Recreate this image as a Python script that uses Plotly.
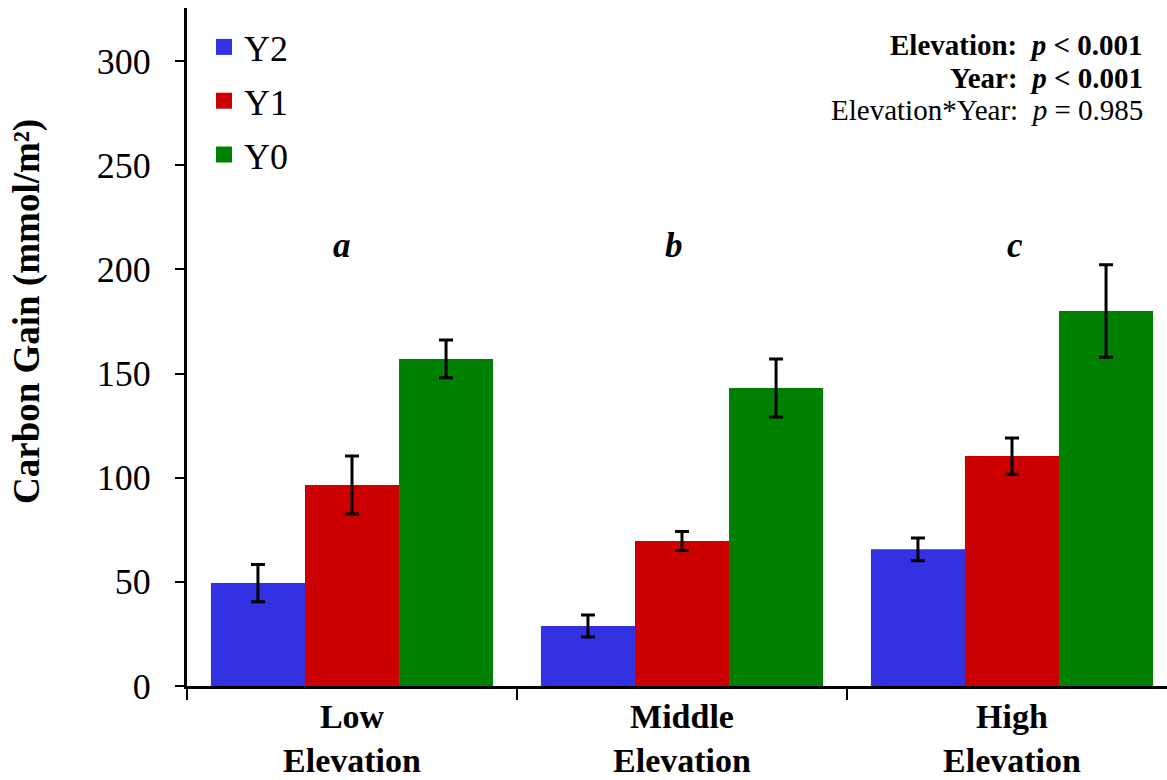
import plotly.graph_objects as go

categories = ["Low<br>Elevation", "Middle<br>Elevation", "High<br>Elevation"]
series_names = ["Y2", "Y1", "Y0"]
y2_values = [49.4, 28.8, 65.6]
y1_values = [96.5, 69.6, 110.4]
y0_values = [157.0, 143.0, 180.0]
y2_errors = [8.9, 5.3, 5.5]
y1_errors = [13.9, 4.6, 8.7]
y0_errors = [9.1, 13.9, 22.2]
group_letters = ["a", "b", "c"]
colors = ["#3232E3", "#CC0000", "#007F00"]

FONT = "Liberation Serif, Times New Roman, serif"

fig = go.Figure()
for name, vals, errs, col in zip(series_names,
                                 [y2_values, y1_values, y0_values],
                                 [y2_errors, y1_errors, y0_errors],
                                 colors):
    fig.add_trace(go.Bar(
        x=categories, y=vals, name=name, showlegend=False,
        marker=dict(color=col, line=dict(width=0)),
        error_y=dict(type="data", array=errs, visible=True,
                     color="black", thickness=3, width=7),
    ))
# legend entries (square swatches)
for name, col in zip(series_names, colors):
    fig.add_trace(go.Scatter(
        x=[categories[0]], y=[None], name=name, legendgroup=name,
        mode="markers", marker=dict(symbol="square", size=18, color=col),
        hoverinfo="skip",
    ))

letter_shift = [-10, -8, 3]
for cat, letter, sh in zip(categories, group_letters, letter_shift):
    fig.add_annotation(x=cat, y=211.5, text=f"<b><i>{letter}</i></b>",
                       showarrow=False, xshift=sh,
                       font=dict(family=FONT, size=35, color="black"))

stat_lines = [
    "<b>Elevation:  <i>p</i> < 0.001</b>",
    "<b>Year:  <i>p</i> < 0.001</b>",
    "Elevation*Year:  <i>p</i> = 0.985",
]
stat_y = [45, 78, 110]
for txt, py in zip(stat_lines, stat_y):
    fig.add_annotation(xref="paper", yref="paper",
                       x=(1145 - 187) / 980, y=(686 - py) / 678,
                       xanchor="right", yanchor="middle",
                       text=txt, showarrow=False,
                       font=dict(family=FONT, size=29, color="black"))

fig.add_annotation(xref="paper", yref="paper",
                   x=(27 - 187) / 980, y=(686 - 312) / 678,
                   text="<b>Carbon Gain (mmol/m²)</b>", textangle=-90,
                   showarrow=False, xanchor="center", yanchor="middle",
                   font=dict(family=FONT, size=37, color="black"))

fig.update_layout(
    width=1167, height=780,
    margin=dict(l=187, r=0, t=8, b=94, autoexpand=False),
    paper_bgcolor="white", plot_bgcolor="white",
    barmode="group", bargap=0.145, bargroupgap=0,
    font=dict(family=FONT, size=36, color="black"),
    showlegend=True,
    legend=dict(x=(204 - 187) / 980, y=(686 - 17) / 678,
                xanchor="left", yanchor="top",
                traceorder="grouped", tracegroupgap=4,
                font=dict(family=FONT, size=36, color="black"),
                bgcolor="rgba(0,0,0,0)", itemwidth=30),
    xaxis=dict(type="category", range=[-0.5, -0.5 + 980 / 330],
               showline=True, linecolor="black", linewidth=3,
               ticks="outside", tickson="boundaries", ticklen=11,
               tickwidth=2, tickcolor="black",
               tickvals=categories,
               ticktext=[f"<b>{c}</b>" for c in categories],
               tickfont=dict(family=FONT, size=34, color="black"),
               ticklabelstandoff=-2,
               showgrid=False, zeroline=False),
    yaxis=dict(range=[0, 678 / (625 / 300)],
               tickvals=[0, 50, 100, 150, 200, 250, 300],
               showline=True, linecolor="black", linewidth=3,
               ticks="outside", ticklen=9, tickwidth=2, tickcolor="black",
               tickfont=dict(family=FONT, size=36, color="black"),
               ticklabelstandoff=17,
               showgrid=False, zeroline=False),
)

fig.write_html("out.html")
